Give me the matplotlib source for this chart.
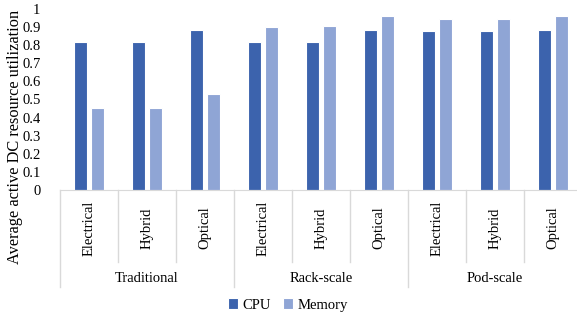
import matplotlib
matplotlib.use("Agg")
import matplotlib.pyplot as plt
import numpy as np

SERIF = ["Liberation Serif", "DejaVu Serif"]
plt.rcParams["font.family"] = SERIF

groups = ["Traditional", "Rack-scale", "Pod-scale"]
fabrics = ["Electrical", "Hybrid", "Optical"]
cpu = [0.816, 0.816, 0.884, 0.816, 0.816, 0.884, 0.880, 0.880, 0.884]
memory = [0.453, 0.453, 0.530, 0.902, 0.906, 0.961, 0.943, 0.943, 0.961]

CPU_COLOR = "#3C63AD"
MEM_COLOR = "#8FA5D5"
AXIS_GREY = "#D9D9D9"

W, H = 577, 318
fig = plt.figure(figsize=(W / 100, H / 100), dpi=100)
# axes runs slightly past the right edge, like the cropped original
ax = fig.add_axes([60 / W, 1 - 190 / H, 9 * 58 / W, 181 / H])

n = len(cpu)
x = np.arange(n) + 0.5
bw = 0.235
ax.bar(x - 0.147, cpu, bw, color=CPU_COLOR, edgecolor="white", lw=0.8, label="CPU")
ax.bar(x + 0.147, memory, bw, color=MEM_COLOR, edgecolor="white", lw=0.8, label="Memory")

ax.set_xlim(0, n)
ax.set_ylim(0, 1)
ax.set_yticks(np.arange(0, 1.01, 0.1))
ax.set_yticklabels(["0"] + [f"{v:.1f}" for v in np.arange(0.1, 0.95, 0.1)] + ["1"])
ax.tick_params(axis="y", length=0, labelsize=10.5, pad=14)
ax.set_xticks([])
for s in ["top", "right", "left"]:
    ax.spines[s].set_visible(False)
ax.spines["bottom"].set_color(AXIS_GREY)

# two-level category axis
tr = ax.get_xaxis_transform()
for i in range(n + 1):
    depth = -0.536 if i % 3 == 0 else -0.398
    ax.plot([i, i], [0, depth], transform=tr, color=AXIS_GREY, lw=1, clip_on=False)
for i in range(n):
    ax.text(x[i], -0.21, fabrics[i % 3], transform=tr, rotation=90,
            ha="center", va="center", fontsize=10.5)
for g, name in enumerate(groups):
    ax.text(g * 3 + 1.5, -0.49, name, transform=tr, ha="center", va="center",
            fontsize=10.5)

fig.text(15 / W, 1 - 137 / H, "Average active DC resource utilization",
         rotation=90, ha="center", va="center", fontsize=11.8)

leg = fig.legend(loc="center", bbox_to_anchor=(288 / W, 1 - 305 / H), ncol=2,
                 frameon=False, fontsize=10.5, handlelength=0.7, handleheight=0.7,
                 handletextpad=0.3, columnspacing=0.8)
for t in leg.get_texts():
    t.set_fontfamily(SERIF)

fig.savefig("out.png", dpi=100)
